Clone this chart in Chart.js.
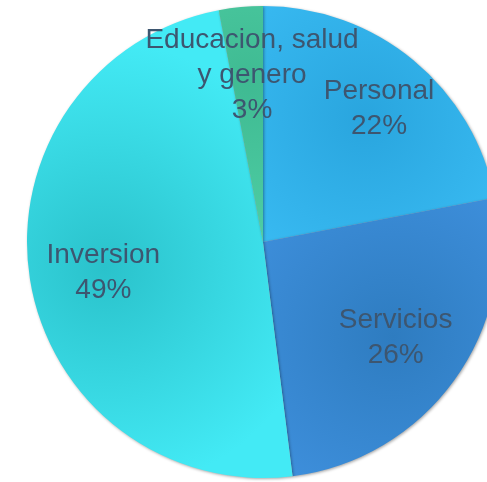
<!DOCTYPE html>
<html>
<head>
<meta charset="utf-8">
<script src="https://cdn.jsdelivr.net/npm/chart.js@4.4.1/dist/chart.umd.min.js"></script>
<style>
  html, body { margin: 0; padding: 0; background: #ffffff; overflow: hidden; width: 487px; height: 482px; }
  #wrap { position: absolute; left: 0; top: 0; width: 526px; height: 482px; }
</style>
</head>
<body>
<div id="wrap"><canvas id="c"></canvas></div>
<script>
const categories = ['Personal', 'Servicios', 'Inversion', ['Educacion, salud', 'y genero']];
const values = [22, 26, 49, 3];
const centerColors = ['#29A5DE', '#2E7CC0', '#2AC2CB', '#3FBA92'];
const edgeColors = ['#3EC2F9', '#4294E3', '#43EAF5', '#54D6AB'];
const labelRadius = [0.757, 0.687, 0.687, 0.718];
const labelAngleShift = [0.9, -0.9, -1.0, 1.7];
const textColor = '#3D5670';

function geometry(chart) {
  const a = chart.chartArea;
  return { x: (a.left + a.right) / 2, y: (a.top + a.bottom) / 2, r: Math.min(a.right - a.left, a.bottom - a.top) / 2 };
}

function sliceGradient(ctx) {
  const chart = ctx.chart;
  const i = ctx.dataIndex;
  const area = chart.chartArea;
  if (!area) return centerColors[i];
  const g0 = geometry(chart);
  const total = values.reduce((a, b) => a + b, 0);
  let before = 0;
  for (let k = 0; k < i; k++) before += values[k];
  const mid = -Math.PI / 2 + (before + values[i] / 2) / total * 2 * Math.PI;
  const cx = g0.x + Math.cos(mid) * g0.r * 0.68;
  const cy = g0.y + Math.sin(mid) * g0.r * 0.68;
  const g = chart.ctx.createRadialGradient(cx, cy, 0, cx, cy, g0.r * 0.95);
  g.addColorStop(0, centerColors[i]);
  g.addColorStop(1, edgeColors[i]);
  return g;
}

const shadowPlugin = {
  id: 'shadow',
  beforeDatasetsDraw(chart) {
    const c = chart.ctx;
    c.save();
    c.shadowColor = 'rgba(0,0,0,0.35)';
    c.shadowBlur = 3;
    c.shadowOffsetX = 1;
    c.shadowOffsetY = 1;
  },
  afterDatasetsDraw(chart) {
    chart.ctx.restore();
  }
};

const labelPlugin = {
  id: 'sliceLabels',
  afterDraw(chart) {
    const c = chart.ctx;
    const meta = chart.getDatasetMeta(0);
    const total = values.reduce((a, b) => a + b, 0);
    const size = 28;
    c.save();
    c.font = size + 'px "Liberation Sans", Arial, sans-serif';
    c.fillStyle = textColor;
    c.textAlign = 'center';
    c.textBaseline = 'alphabetic';
    meta.data.forEach((el, i) => {
      const p = el.getProps(['x', 'y', 'startAngle', 'endAngle', 'outerRadius'], true);
      const mid = (p.startAngle + p.endAngle) / 2 + labelAngleShift[i] * Math.PI / 180;
      const r = p.outerRadius * labelRadius[i];
      const x = p.x + Math.cos(mid) * r;
      const y = p.y + Math.sin(mid) * r;
      const name = Array.isArray(categories[i]) ? categories[i] : [categories[i]];
      const lines = name.concat([Math.round(values[i] / total * 100) + '%']);
      const lh = 35;
      const capHalf = size * 0.716 / 2;
      const y0 = y - (lines.length - 1) * lh / 2 + capHalf;
      lines.forEach((t, k) => c.fillText(t, x, y0 + k * lh));
    });
    c.restore();
  }
};

new Chart(document.getElementById('c'), {
  type: 'pie',
  data: {
    labels: categories.map(l => Array.isArray(l) ? l.join(' ') : l),
    datasets: [{
      data: values,
      backgroundColor: sliceGradient,
      borderWidth: 0
    }]
  },
  options: {
    responsive: true,
    maintainAspectRatio: false,
    animation: false,
    rotation: 0,
    layout: { padding: { left: 27, right: 27, top: 6, bottom: 4 } },
    plugins: {
      legend: { display: false },
      tooltip: { enabled: false }
    }
  },
  plugins: [shadowPlugin, labelPlugin]
});
</script>
</body>
</html>
